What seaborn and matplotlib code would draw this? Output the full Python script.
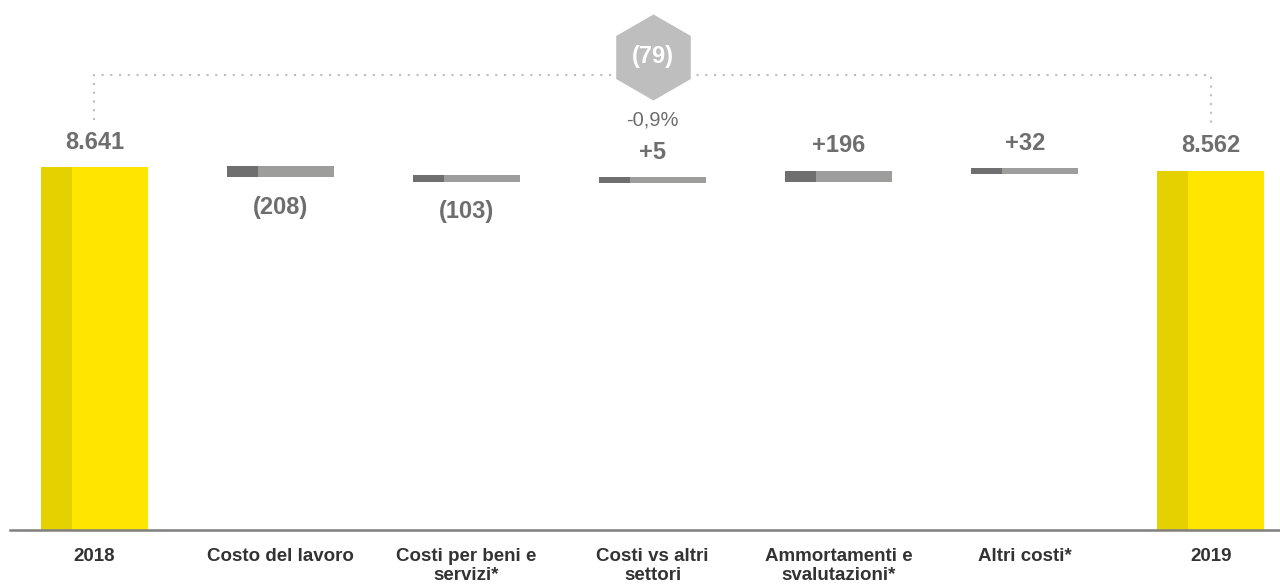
import numpy as np
import matplotlib.pyplot as plt
import seaborn as sns

categories = ["2018", "Costo del lavoro", "Costi per beni e servizi*",
              "Costi vs altri settori", "Ammortamenti e svalutazioni*",
              "Altri costi*", "2019"]
tick_labels = ["2018", "Costo del lavoro", "Costi per beni e\nservizi*",
               "Costi vs altri\nsettori", "Ammortamenti e\nsvalutazioni*",
               "Altri costi*", "2019"]
start_value = 8641
end_value = 8562
deltas = [-208, -103, 5, 196, 32]

YELLOW, YELLOW_DARK = "#FFE600", "#E5D100"
GREY, GREY_DARK = "#9D9D9C", "#6F6F6F"
TEXT = "#6E6E6E"

sns.set_theme(style="white")
plt.rcParams["font.family"] = ["Liberation Sans", "DejaVu Sans"]


def fmt_total(v):
    return f"{v:,}".replace(",", ".")


def fmt_delta(d):
    return f"({abs(d)})" if d < 0 else f"+{d}"


# waterfall steps (small steps get a minimum visible thickness)
levels = start_value + np.concatenate([[0], np.cumsum(deltas)])
mids = (levels[:-1] + levels[1:]) / 2
thick = np.maximum(np.abs(deltas) + 60, 145)
bottoms = np.concatenate([[0], mids - thick / 2, [0]])
heights = np.concatenate([[start_value], thick, [end_value]])
x = np.arange(len(categories))
bar_w, strip_w = 0.575, 0.167

fig = plt.figure(figsize=(12.8, 5.84), dpi=100)
ax = fig.add_axes([10 / 1280, (584 - 529.5) / 584, 1270 / 1280, 529.5 / 584])

sns.barplot(x=categories, y=heights, bottom=bottoms, color=GREY, saturation=1,
            width=bar_w, errorbar=None, ax=ax)
for i, p in enumerate(ax.patches):
    if i in (0, len(categories) - 1):
        p.set_facecolor(YELLOW)
    p.set_edgecolor("none")

strip_colors = [YELLOW_DARK] + [GREY_DARK] * len(deltas) + [YELLOW_DARK]
ax.bar(x - bar_w / 2, heights, bottom=bottoms, width=strip_w, align="edge",
       color=strip_colors, linewidth=0)

# value labels
totals = {0: start_value, len(categories) - 1: end_value}
for i in x:
    top = bottoms[i] + heights[i]
    if i in totals:
        txt, y, off = fmt_total(totals[i]), top, 13.5
    else:
        d = deltas[i - 1]
        txt = fmt_delta(d)
        y, off = (top, 13.5) if d > 0 else (bottoms[i], -26)
    ax.annotate(txt, (i, y), xytext=(0, off), textcoords="offset points",
                ha="center", va="baseline", fontsize=17, fontweight="bold",
                color=TEXT)

# total change bracket
change = end_value - start_value
pct = change / start_value * 100
bracket_y = 10847
ax.plot([0, 0, len(categories) - 1, len(categories) - 1],
        [start_value + 1130, bracket_y, bracket_y, end_value + 1070],
        color="#BDBDBD", lw=1.5, linestyle=(0, (1, 3.2)), zorder=1)
mid_x = (len(categories) - 1) / 2
ax.plot(mid_x, 11277, marker="h", markersize=62, color="#BEBEBE",
        markeredgewidth=0, zorder=5, clip_on=False)
ax.text(mid_x, 11277, fmt_delta(change), ha="center", va="center",
        fontsize=17, fontweight="bold", color="white", zorder=6)
ax.text(mid_x, 9630, f"{pct:.1f}%".replace(".", ","), ha="center",
        va="baseline", fontsize=14.5, color=TEXT)

ax.set_xlim(-0.454, 6.372)
ax.set_ylim(0, 12637)
ax.set_xticks(x, tick_labels)
ax.set_yticks([])
ax.tick_params(axis="x", length=0, pad=13, labelsize=13.5, labelcolor="#333333")
for lab in ax.get_xticklabels():
    lab.set_fontweight("bold")
    lab.set_linespacing(1.15)
for s in ("top", "right", "left"):
    ax.spines[s].set_visible(False)
ax.spines["bottom"].set_color("#7F7F7F")
ax.spines["bottom"].set_linewidth(1.8)
ax.set_xlabel("")
ax.patch.set_alpha(0)

fig.savefig("out.png", dpi=100)
